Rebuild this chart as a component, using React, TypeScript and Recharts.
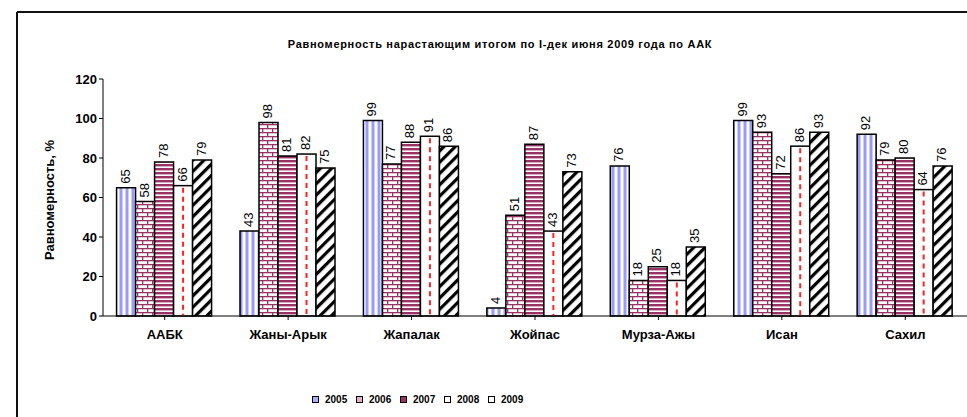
import React from 'react';
import { BarChart, Bar, XAxis, YAxis, LabelList, Label } from 'recharts';

const categories = ['ААБК', 'Жаны-Арык', 'Жапалак', 'Жойпас', 'Мурза-Ажы', 'Исан', 'Сахил'];
const years = ['2005', '2006', '2007', '2008', '2009'];
const v2005 = [65, 43, 99, 4, 76, 99, 92];
const v2006 = [58, 98, 77, 51, 18, 93, 79];
const v2007 = [78, 81, 88, 87, 25, 72, 80];
const v2008 = [66, 82, 91, 43, 18, 86, 64];
const v2009 = [79, 75, 86, 73, 35, 93, 76];
const yTicks = [0, 20, 40, 60, 80, 100, 120];

const seriesValues = [v2005, v2006, v2007, v2008, v2009];
const data = categories.map((name, i) => {
  const row: Record<string, string | number> = { name };
  years.forEach((y, k) => { row['y' + y] = seriesValues[k][i]; });
  return row;
});

const FONT = "Arial, 'Liberation Sans', sans-serif";
const fills = ['url(#pBlue)', 'url(#pBrick)', 'url(#pStripe)', '#ffffff', 'url(#pDiag)'];
const swatch = ['#aab0ff', '#e8b0c8', '#993366', '#ffffff', '#ffffff'];

const Patterns = () => (
  <svg width={0} height={0} style={{ position: 'absolute', left: 0, top: 0 }}>
    <defs>
      <pattern id="pBlue" patternUnits="userSpaceOnUse" width={6} height={6}>
        <rect width={6} height={6} fill="#ffffff" />
        <rect x={0} width={2} height={6} fill="#9999ff" />
        <rect x={2} width={1} height={6} fill="#c8ccff" />
        <rect x={5} width={1} height={6} fill="#c8ccff" />
      </pattern>
      <pattern id="pBrick" patternUnits="userSpaceOnUse" width={10} height={8}>
        <rect width={10} height={8} fill="#ffffff" />
        <rect y={0} width={10} height={1.3} fill="#993366" />
        <rect y={4} width={10} height={1.3} fill="#993366" />
        <rect x={2} y={0} width={1.3} height={4} fill="#993366" />
        <rect x={7} y={4} width={1.3} height={4} fill="#993366" />
      </pattern>
      <pattern id="pStripe" patternUnits="userSpaceOnUse" width={4} height={4}>
        <rect width={4} height={4} fill="#ffffff" />
        <rect y={0} width={4} height={2.4} fill="#993366" />
      </pattern>
      <pattern id="pDiag" patternUnits="userSpaceOnUse" width={8} height={8} patternTransform="rotate(45)">
        <rect width={8} height={8} fill="#ffffff" />
        <rect x={0} width={3.2} height={8} fill="#000000" />
      </pattern>
    </defs>
  </svg>
);

const DashedBar = (props: any) => {
  const { x, y, width, height } = props;
  if (!height) return null;
  const cx = x + width / 2;
  return (
    <g>
      <rect x={x} y={y} width={width} height={height} fill="#ffffff" stroke="#000" strokeWidth={1.5} />
      <line x1={cx} x2={cx} y1={y + 2} y2={y + height} stroke="#ff2020" strokeWidth={2} strokeDasharray="5 4" />
    </g>
  );
};

const BarLabel = (props: any) => {
  const { x, y, width, value } = props;
  const cx = x + width / 2 - 1;
  const ty = y - 4;
  return (
    <text x={cx} y={ty} transform={`rotate(-90 ${cx} ${ty})`} textAnchor="start" dominantBaseline="central"
      fontSize={13} fontFamily={FONT} fill="#000">
      {value}
    </text>
  );
};

const ChartLegend = () => (
  <div style={{ position: 'absolute', left: 312, top: 394, display: 'flex', fontFamily: FONT, fontSize: 10, fontWeight: 'bold' }}>
    {years.map((y, k) => (
      <div key={y} style={{ display: 'flex', alignItems: 'center', width: 44 }}>
        <span style={{ width: 5, height: 5, border: '1.5px solid #000', background: swatch[k], marginRight: 6, display: 'inline-block' }} />
        <span>{y}</span>
      </div>
    ))}
  </div>
);

export default function App() {
  return (
    <div>
      <Patterns />
      <div style={{ position: 'absolute', left: 0, top: 0 }}>
        <BarChart width={967} height={417} data={data} margin={{ top: 79, right: 0, bottom: 71, left: 13 }}
          barCategoryGap="11%" barGap={0}>
          <line x1={17} y1={12} x2={967} y2={12} stroke="#111" strokeWidth={2} />
          <line x1={17} y1={12} x2={17} y2={417} stroke="#111" strokeWidth={2} />
          <text x={500} y={48} textAnchor="middle" fontFamily={FONT} fontSize={11} fontWeight="bold" letterSpacing={0.7} fill="#000">
            Равномерность нарастающим итогом по I-дек июня  2009 года по ААК
          </text>
          <XAxis dataKey="name" interval={0} axisLine={{ stroke: '#000' }} tickLine={{ stroke: '#000' }} tickSize={4}
            height={30} tick={{ fill: '#000', fontSize: 13, fontWeight: 'bold', fontFamily: FONT }} dy={8} />
          <YAxis domain={[0, 120]} ticks={yTicks} width={90} axisLine={{ stroke: '#000' }} tickLine={{ stroke: '#000' }} tickSize={4}
            tick={{ fill: '#000', fontSize: 13, fontWeight: 'bold', fontFamily: FONT }}>
            <Label content={() => (
              <text x={49} y={200} transform="rotate(-90 49 200)" textAnchor="middle" dominantBaseline="central"
                fontSize={13} fontWeight="bold" fontFamily={FONT} fill="#000">Равномерность, %</text>
            )} />
          </YAxis>
          {years.map((y, k) => (
            <Bar key={y} dataKey={'y' + y} name={y} fill={fills[k]} stroke="#000" strokeWidth={1.5}
              isAnimationActive={false} shape={k === 3 ? DashedBar : undefined}>
              <LabelList dataKey={'y' + y} content={BarLabel} />
            </Bar>
          ))}
        </BarChart>
      </div>
      <ChartLegend />
    </div>
  );
}
